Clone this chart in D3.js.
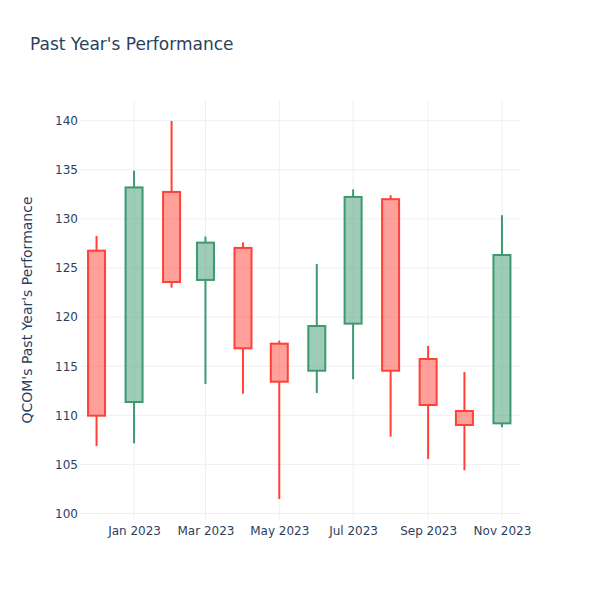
<!DOCTYPE html>
<html>
<head>
<meta charset="utf-8">
<script src="https://cdn.jsdelivr.net/npm/d3@7"></script>
<style>
html,body{margin:0;padding:0;background:#fff;}
svg text{font-family:"DejaVu Sans", Verdana, sans-serif;}
</style>
</head>
<body>
<svg id="chart" width="600" height="600"></svg>
<script>
const dates = ["2022-12-01","2023-01-01","2023-02-01","2023-03-01","2023-04-01","2023-05-01","2023-06-01","2023-07-01","2023-08-01","2023-09-01","2023-10-01","2023-11-01"];
const open  = [126.76, 111.35, 132.74, 123.78, 127.04, 117.29, 114.54, 119.33, 132.0, 115.73, 110.44, 109.18];
const high  = [128.26, 134.9, 139.97, 128.2, 127.6, 117.6, 125.4, 133.0, 132.4, 117.06, 114.41, 130.37];
const low   = [106.87, 107.15, 123.0, 113.19, 112.2, 101.48, 112.27, 113.67, 107.82, 105.55, 104.4, 108.78];
const close = [109.96, 133.2, 123.57, 127.58, 116.82, 113.42, 119.09, 132.23, 114.54, 111.05, 109.01, 126.32];
const yTicks = [100,105,110,115,120,125,130,135,140];
const xTickDates = ["2023-01-01","2023-03-01","2023-05-01","2023-07-01","2023-09-01","2023-11-01"];

const parse = d3.utcParse("%Y-%m-%d");
const data = dates.map((d,i)=>({date:parse(d),open:open[i],high:high[i],low:low[i],close:close[i]}));

const W=600,H=600,m={l:80,r:80,t:100,b:80};
const svg=d3.select("#chart");
const x=d3.scaleUtc().domain([new Date(Date.UTC(2022,10,17,8)),new Date(Date.UTC(2023,10,15,22))]).range([m.l,W-m.r]);
const y=d3.scaleLinear().domain([99.34,142.1]).range([H-m.b,m.t]);

const grid="#EBF0F8", txt="#2a3f5f";
// grid
svg.append("g").selectAll("line").data(yTicks).join("line")
  .attr("x1",m.l).attr("x2",W-m.r).attr("y1",d=>y(d)).attr("y2",d=>y(d))
  .attr("stroke",grid).attr("stroke-width",1);
svg.append("g").selectAll("line").data(xTickDates.map(parse)).join("line")
  .attr("y1",m.t).attr("y2",H-m.b).attr("x1",d=>x(d)).attr("x2",d=>x(d))
  .attr("stroke",grid).attr("stroke-width",1);

// axes
const yAxis=svg.append("g").attr("transform",`translate(${m.l},0)`)
  .call(d3.axisLeft(y).tickValues(yTicks).tickSize(0).tickPadding(2));
yAxis.select(".domain").remove();
yAxis.selectAll("text").attr("fill",txt).style("font-size","12px");

const xAxis=svg.append("g").attr("transform",`translate(0,${H-m.b})`)
  .call(d3.axisBottom(x).tickValues(xTickDates.map(parse)).tickSize(0).tickPadding(6).tickFormat(d3.utcFormat("%b %Y")));
xAxis.select(".domain").remove();
xAxis.selectAll("text").attr("fill",txt).style("font-size","12px");

// candles
const inc="#3D9970", dec="#FF4136";
const halfW=8.5;
const g=svg.append("g");
data.forEach(d=>{
  const up=d.close>=d.open;
  const c=up?inc:dec;
  const cx=x(d.date);
  const top=Math.max(d.open,d.close), bot=Math.min(d.open,d.close);
  g.append("line").attr("x1",cx).attr("x2",cx).attr("y1",y(d.high)).attr("y2",y(top)).attr("stroke",c).attr("stroke-width",2);
  g.append("line").attr("x1",cx).attr("x2",cx).attr("y1",y(bot)).attr("y2",y(d.low)).attr("stroke",c).attr("stroke-width",2);
  g.append("rect").attr("x",cx-halfW).attr("width",halfW*2).attr("y",y(top)).attr("height",y(bot)-y(top))
    .attr("fill",c).attr("fill-opacity",0.5).attr("stroke",c).attr("stroke-width",2);
});

// title
svg.append("text").attr("x",30).attr("y",50).attr("fill",txt).style("font-size","17px").text("Past Year's Performance");
svg.append("text").attr("transform",`translate(32,${(m.t+H-m.b)/2}) rotate(-90)`).attr("text-anchor","middle")
  .attr("fill",txt).style("font-size","14px").text("QCOM's Past Year's Performance");
</script>
</body>
</html>
